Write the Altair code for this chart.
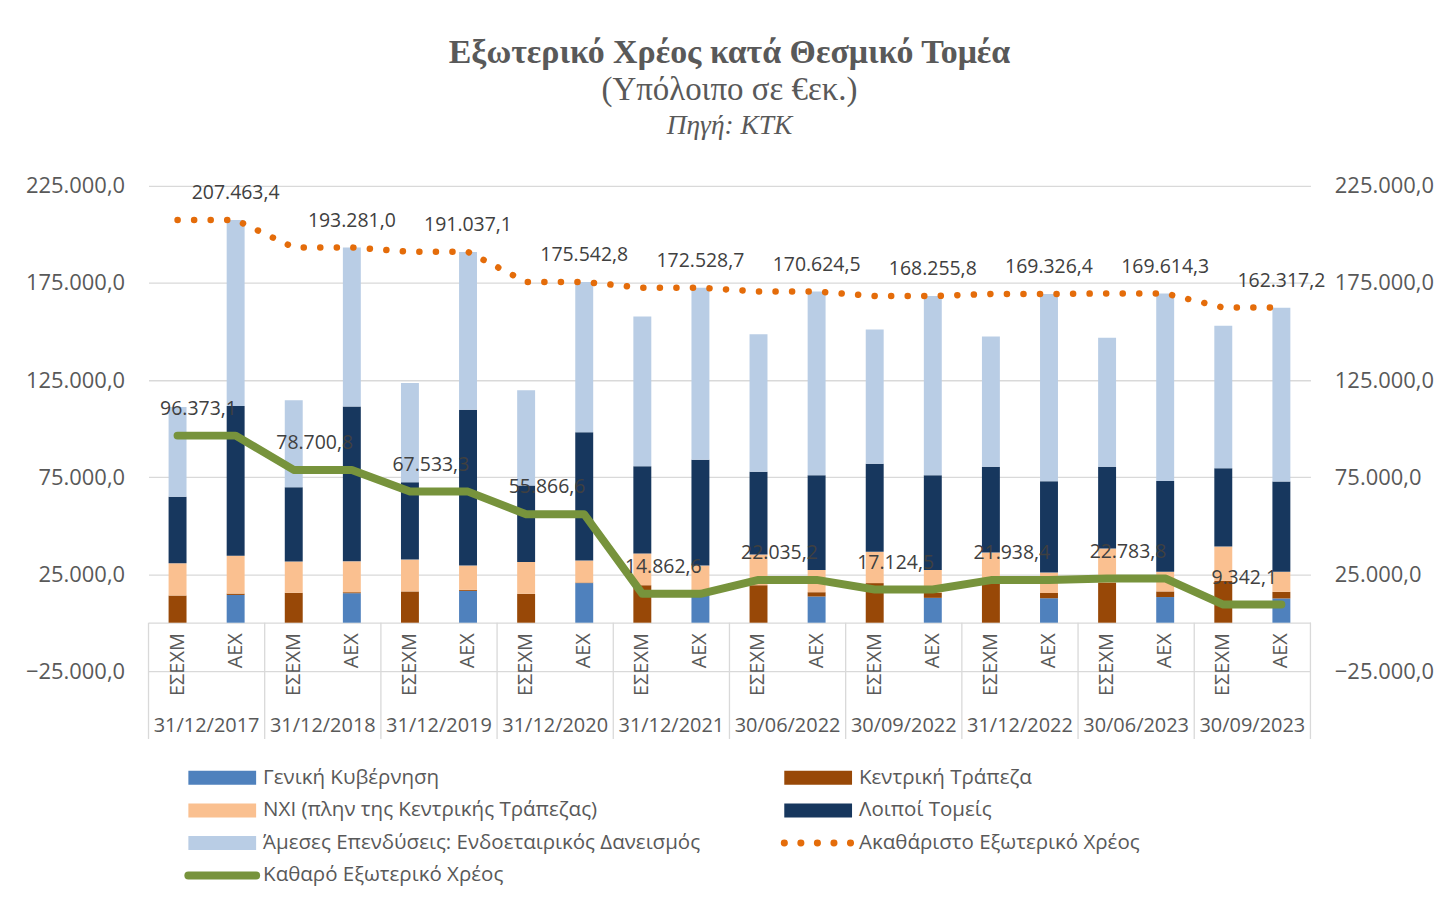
import altair as alt
import pandas as pd

# ---------------- data ----------------
dates = ["31/12/2017", "31/12/2018", "31/12/2019", "31/12/2020", "31/12/2021",
         "30/06/2022", "30/09/2022", "31/12/2022", "30/06/2023", "30/09/2023"]
types = ["ΕΣΕΧΜ", "ΑΕΧ"]
sectors = ["Γενική Κυβέρνηση", "Κεντρική Τράπεζα", "ΝΧΙ (πλην της Κεντρικής Τράπεζας)",
           "Λοιποί Τομείς", "Άμεσες Επενδύσεις: Ενδοεταιρικός Δανεισμός"]
sector_colors = ["#4f81bd", "#984807", "#fac090", "#17375e", "#b9cde5"]

# ΕΣΕΧΜ bars (external assets)
esexm_gen = [0, 0, 0, 0, 0, 0, 0, 0, 0, 0]
esexm_cb = [14000, 15400, 16100, 14900, 19300, 19300, 20400, 20700, 20700, 21500]
esexm_nxi = [16600, 16100, 16400, 16400, 16400, 15800, 16100, 15400, 17500, 17700]
esexm_other = [34300, 38300, 39900, 39400, 44900, 42700, 45400, 44200, 42100, 40400]
esexm_fdi = [46200, 44800, 51100, 49000, 77100, 70800, 69200, 67100, 66500, 73400]

# ΑΕΧ bars (gross external debt)
aex_gen = [14300, 15200, 16400, 20400, 16400, 13500, 12800, 12600, 13200, 12500]
aex_cb = [700, 500, 500, 300, 500, 2200, 2600, 2700, 2900, 3400]
aex_nxi = [19500, 15900, 12500, 11300, 12500, 11500, 11800, 10500, 10100, 10300]
aex_other = [77100, 79800, 80300, 66100, 54600, 48800, 48700, 47100, 46800, 46500]
aex_fdi = [95900, 81900, 81300, 77400, 88500, 94600, 92400, 96400, 96600, 89600]

gross = [207463.4, 193281.0, 191037.1, 175542.8, 172528.7,
         170624.5, 168255.8, 169326.4, 169614.3, 162317.2]
net = [96373.1, 78700.8, 67533.3, 55866.6, 14862.6,
       22035.2, 17124.5, 21938.4, 22783.8, 9342.1]

y_ticks = [-25000, 25000, 75000, 125000, 175000, 225000]

legend_labels = ["Γενική Κυβέρνηση", "Κεντρική Τράπεζα",
                 "ΝΧΙ (πλην της Κεντρικής Τράπεζας)", "Λοιποί Τομείς",
                 "Άμεσες Επενδύσεις: Ενδοεταιρικός Δανεισμός", "Ακαθάριστο Εξωτερικό Χρέος",
                 "Καθαρό Εξωτερικό Χρέος"]
legend_kind = ["bar", "bar", "bar", "bar", "bar", "dot", "line"]
legend_colors = ["#4f81bd", "#984807", "#fac090", "#17375e", "#b9cde5", "#e46c0a", "#77933c"]

# ---------------- tables ----------------
keys = [f"{d}|{t}" for d in dates for t in types]
esexm = [esexm_gen, esexm_cb, esexm_nxi, esexm_other, esexm_fdi]
aex = [aex_gen, aex_cb, aex_nxi, aex_other, aex_fdi]

bar_rows = []
line_rows = []
for i, d in enumerate(dates):
    for t, series in (("ΕΣΕΧΜ", esexm), ("ΑΕΧ", aex)):
        for j, s in enumerate(sectors):
            bar_rows.append({"key": f"{d}|{t}", "sector": s, "order": j, "value": series[j][i]})
        line_rows.append({"key": f"{d}|{t}", "date": d, "type": t, "gross": gross[i], "net": net[i]})
bars_df = pd.DataFrame(bar_rows)
lines_df = pd.DataFrame(line_rows)

leg_df = pd.DataFrame({
    "label": legend_labels, "kind": legend_kind, "color": legend_colors,
    "col": [i % 2 for i in range(len(legend_labels))],
    "row": [i // 2 for i in range(len(legend_labels))],
})

GRAY = "#595959"
GRID = "#d9d9d9"
LBL_FONT = "Open Sans"
SERIF = "Liberation Serif"
PW, PH = 1166, 487
ZERO_OFF = PH * 25000 / 250000

fmt = "replace(replace(replace(format(datum.{f}, ',.1f'), ',', '_'), '.', ','), '_', '.')"

yscale = alt.Scale(domain=[-25000, 225000], nice=False, zero=False)
xscale = alt.Scale(domain=keys, paddingInner=0, paddingOuter=0)
xaxis = alt.Axis(orient="bottom", offset=-ZERO_OFF, labelAngle=270, labelAlign="right",
                 labelBaseline="middle", labelExpr="split(datum.label, '|')[1]",
                 labelFont=LBL_FONT, labelFontSize=20, labelColor=GRAY, labelPadding=10,
                 ticks=False, domainColor=GRID, domainWidth=1.3, grid=False, title=None)
yaxis_left = alt.Axis(values=y_ticks, labelExpr=fmt.format(f="value"), grid=True,
                      gridColor=GRID, gridWidth=1.3, domain=False, ticks=False,
                      labelPadding=24, labelFont=LBL_FONT, labelFontSize=22,
                      labelColor=GRAY, title=None)
yaxis_right = alt.Axis(orient="right", values=y_ticks, labelExpr=fmt.format(f="value"),
                       grid=False, domain=False, ticks=False, labelPadding=24,
                       labelFont=LBL_FONT, labelFontSize=22, labelColor=GRAY, title=None)

X = alt.X("key:N", scale=xscale, axis=xaxis, title=None)

bars = alt.Chart(bars_df).mark_bar(size=18).encode(
    x=X,
    y=alt.Y("value:Q", stack="zero", scale=yscale, axis=yaxis_left, title=None),
    color=alt.Color("sector:N", scale=alt.Scale(domain=sectors, range=sector_colors), legend=None),
    order=alt.Order("order:Q", sort="ascending"),
)

gross_line = alt.Chart(lines_df).mark_line(
    color="#e46c0a", strokeWidth=6.5, strokeDash=[0.1, 16.5], strokeCap="round"
).encode(x=X, y=alt.Y("gross:Q", scale=yscale, title=None))

net_line = alt.Chart(lines_df).mark_line(
    color="#77933c", strokeWidth=8, strokeCap="round", strokeJoin="round"
).encode(x=X, y=alt.Y("net:Q", scale=yscale, title=None))

gross_lbl = alt.Chart(lines_df).transform_filter(
    alt.datum.type == "ΑΕΧ"
).transform_calculate(lbl=fmt.format(f="gross")).mark_text(
    dy=-27, font=LBL_FONT, fontSize=19.5, color="#404040", baseline="middle"
).encode(x=X, y=alt.Y("gross:Q", scale=yscale, title=None), text="lbl:N")

net_lbl = alt.Chart(lines_df).transform_filter(
    alt.datum.type == "ΕΣΕΧΜ"
).transform_calculate(lbl=fmt.format(f="net")).mark_text(
    dx=21, dy=-27, font=LBL_FONT, fontSize=19.5, color="#404040", baseline="middle"
).encode(x=X, y=alt.Y("net:Q", scale=yscale, title=None), text="lbl:N")

sep = alt.Chart(lines_df).transform_filter(alt.datum.type == "ΕΣΕΧΜ").mark_rule(
    color=GRID, strokeWidth=1.3
).encode(x=alt.X("key:N", scale=xscale, bandPosition=0, axis=xaxis, title=None),
         y=alt.datum(0), y2=alt.value(PH + 68))

sep_end = alt.Chart(lines_df).transform_filter(
    (alt.datum.type == "ΑΕΧ") & (alt.datum.date == dates[-1])
).mark_rule(color=GRID, strokeWidth=1.3).encode(
    x=alt.X("key:N", scale=xscale, bandPosition=1, axis=xaxis, title=None),
    y=alt.datum(0), y2=alt.value(PH + 68))

date_lbl = alt.Chart(lines_df).transform_filter(alt.datum.type == "ΕΣΕΧΜ").mark_text(
    font=LBL_FONT, fontSize=20, color=GRAY, baseline="middle"
).encode(x=alt.X("key:N", scale=xscale, bandPosition=1, axis=xaxis, title=None),
         y=alt.value(PH + 55), text="date:N")

right_axis = alt.Chart(lines_df).mark_line(opacity=0).encode(
    x=X, y=alt.Y("gross:Q", scale=yscale, axis=yaxis_right, title=None))

main_layers = alt.layer(bars, sep, sep_end, date_lbl, gross_line, net_line, gross_lbl, net_lbl)
main = alt.layer(main_layers, right_axis).resolve_scale(y="independent").properties(
    width=PW, height=PH,
    title=alt.TitleParams("Πηγή: ΚΤΚ", font=SERIF, fontStyle="italic", fontWeight="normal",
                          fontSize=27.5, color=GRAY, anchor="middle", offset=36),
)

# ---------------- legend ----------------
lx = alt.Scale(domain=[0, 1], range=[40, 638])
ly = alt.Scale(domain=[0, 3], range=[19, 117])
leg_base = alt.Chart(leg_df).transform_calculate(col2="datum.col + 68/598")

leg_bar = leg_base.transform_filter(alt.datum.kind == "bar").mark_rule(strokeWidth=14).encode(
    x=alt.X("col:Q", scale=lx, axis=None), x2="col2:Q",
    y=alt.Y("row:Q", scale=ly, axis=None),
    color=alt.Color("color:N", scale=None))
leg_line = leg_base.transform_filter(alt.datum.kind == "line").mark_rule(
    strokeWidth=8, strokeCap="round").encode(
    x=alt.X("col:Q", scale=lx, axis=None), x2="col2:Q",
    y=alt.Y("row:Q", scale=ly, axis=None),
    color=alt.Color("color:N", scale=None))
leg_dot = leg_base.transform_filter(alt.datum.kind == "dot").mark_rule(
    strokeWidth=7, strokeCap="round", strokeDash=[0.1, 16.5]).encode(
    x=alt.X("col:Q", scale=lx, axis=None), x2="col2:Q",
    y=alt.Y("row:Q", scale=ly, axis=None),
    color=alt.Color("color:N", scale=None))
leg_text = leg_base.mark_text(align="left", baseline="middle", dx=75, font=LBL_FONT,
                              fontSize=20.6, color=GRAY).encode(
    x=alt.X("col:Q", scale=lx, axis=None),
    y=alt.Y("row:Q", scale=ly, axis=None), text="label:N")

legend = alt.layer(leg_bar, leg_line, leg_dot, leg_text).properties(width=PW, height=120)

chart = alt.vconcat(main, legend, spacing=19).properties(
    title=alt.TitleParams(
        "Εξωτερικό Χρέος κατά Θεσμικό Τομέα", subtitle="(Υπόλοιπο σε €εκ.)",
        font=SERIF, fontSize=34, fontWeight="bold", color=GRAY,
        subtitleFont=SERIF, subtitleFontSize=33, subtitleColor=GRAY,
        subtitlePadding=4, anchor="middle", offset=5),
    padding={"left": 17, "top": 26, "right": 0, "bottom": 2},
    background="white",
).configure_view(stroke=None)

chart.save("out.html", embed_options={"renderer": "svg", "actions": False})
